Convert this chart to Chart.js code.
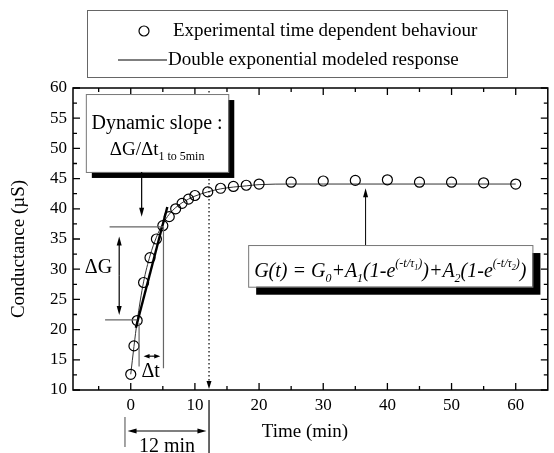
<!DOCTYPE html>
<html>
<head>
<meta charset="utf-8">
<script src="https://cdn.jsdelivr.net/npm/chart.js@4.4.1/dist/chart.umd.min.js"></script>
<style>
  html, body { margin: 0; padding: 0; background: #fff; }
  #wrap { width: 554px; height: 453px; }
</style>
</head>
<body>
<div id="wrap"><canvas id="chart" width="554" height="453"></canvas></div>
<script>
/* measured conductance (µS) vs time (min) */
var timeMin  = [0, 0.5, 1, 2, 3, 4, 5, 6, 7, 8, 9, 10, 12, 14, 16, 18, 20, 25, 30, 35, 40, 45, 50, 55, 60];
var measured = [12.6, 17.3, 21.5, 27.8, 31.9, 35.0, 37.2, 38.7, 40.0, 40.9, 41.6, 42.2, 42.8, 43.4, 43.7, 43.9, 44.1, 44.4, 44.6, 44.7, 44.8, 44.4, 44.4, 44.3, 44.1];

/* double exponential fit */
var modelTime = [0, 0.5, 1, 2, 3, 4, 5, 6, 7, 8, 9, 10, 12, 14, 16, 18, 20, 25, 30, 40, 50, 60];
var modeled   = [12.6, 17.2, 21.4, 27.9, 32.2, 35.3, 37.5, 39.1, 40.2, 41.0, 41.6, 42.1, 42.8, 43.3, 43.6, 43.8, 44.0, 44.1, 44.1, 44.1, 44.1, 44.1];

/* dynamic slope segment (1 to 5 min) */
var slopeTime = [0.8, 5.7];
var slopeG    = [20.3, 40.3];

/* axis ticks */
var xMajor = [0, 10, 20, 30, 40, 50, 60];
var xMinor = [-5, 5, 15, 25, 35, 45, 55];
var yMajor = [10, 15, 20, 25, 30, 35, 40, 45, 50, 55, 60];
var yMinor = [12.5, 17.5, 22.5, 27.5, 32.5, 37.5, 42.5, 47.5, 52.5, 57.5];

var SERIF = '"Liberation Serif", "Times New Roman", serif';

function pts(xs, ys) {
  return xs.map(function (x, i) { return { x: x, y: ys[i] }; });
}

function arrow(c, x1, y1, x2, y2, len, half) {
  var ang = Math.atan2(y2 - y1, x2 - x1);
  var ca = Math.cos(ang), sa = Math.sin(ang);
  c.beginPath();
  c.moveTo(x1, y1);
  c.lineTo(x2 - ca * len * 0.7, y2 - sa * len * 0.7);
  c.stroke();
  c.beginPath();
  c.moveTo(x2, y2);
  c.lineTo(x2 - len * ca + half * sa, y2 - len * sa - half * ca);
  c.lineTo(x2 - len * ca - half * sa, y2 - len * sa + half * ca);
  c.closePath();
  c.fill();
}

/* text made of runs: [text, size, dy]; returns width */
function richText(c, parts, x, y, style, draw) {
  var w = 0;
  parts.forEach(function (p) {
    c.font = style + p[1] + 'px ' + SERIF;
    if (draw) c.fillText(p[0], x + w, y + p[2]);
    w += c.measureText(p[0]).width;
  });
  return w;
}

function shadowBox(c, l, t, r, b, off) {
  c.fillStyle = '#000';
  c.fillRect(l + off, t + off, r - l, b - t);
  c.fillStyle = '#fff';
  c.fillRect(l, t, r - l, b - t);
  c.strokeStyle = '#777';
  c.lineWidth = 1;
  c.strokeRect(l + 0.5, t + 0.5, r - l, b - t);
}

var frame = {
  id: 'frame',
  afterDraw: function (chart) {
    var c = chart.ctx, a = chart.chartArea;
    var xs = chart.scales.x, ys = chart.scales.y;
    function X(v) { return xs.getPixelForValue(v); }
    function Y(v) { return ys.getPixelForValue(v); }
    c.save();

    /* axes box with inward ticks on all four sides */
    c.strokeStyle = '#000';
    c.lineWidth = 1.5;
    c.strokeRect(a.left, a.top, a.right - a.left, a.bottom - a.top);
    c.lineWidth = 1.3;
    c.beginPath();
    [[xMajor, 7], [xMinor, 4]].forEach(function (g) {
      g[0].forEach(function (v) {
        var px = X(v);
        c.moveTo(px, a.bottom); c.lineTo(px, a.bottom - g[1]);
        c.moveTo(px, a.top); c.lineTo(px, a.top + g[1]);
      });
    });
    [[yMajor, 7], [yMinor, 4]].forEach(function (g) {
      g[0].forEach(function (v) {
        var py = Y(v);
        c.moveTo(a.left, py); c.lineTo(a.left + g[1], py);
        c.moveTo(a.right, py); c.lineTo(a.right - g[1], py);
      });
    });
    c.stroke();

    /* axis titles */
    c.fillStyle = '#000';
    c.font = '19px ' + SERIF;
    c.textAlign = 'center';
    c.textBaseline = 'middle';
    c.fillText('Time (min)', 305, 432);
    c.save();
    c.translate(19, 249);
    c.rotate(-Math.PI / 2);
    c.fillText('Conductance (\u00B5S)', 0, 0);
    c.restore();

    /* legend */
    var ds = chart.data.datasets;
    c.fillStyle = '#fff';
    c.fillRect(87, 10, 420, 67);
    c.strokeStyle = '#666';
    c.lineWidth = 1;
    c.strokeRect(87.5, 10.5, 420, 67);
    c.strokeStyle = '#000';
    c.lineWidth = 1.2;
    c.beginPath(); c.arc(144, 31, 5, 0, Math.PI * 2); c.stroke();
    c.beginPath(); c.moveTo(118, 60); c.lineTo(167, 60); c.stroke();
    c.fillStyle = '#000';
    c.textAlign = 'left';
    c.font = '19px ' + SERIF;
    c.fillText(ds[0].label, 173, 31);
    c.fillText(ds[1].label, 168, 60);

    /* dotted marker at 12 min */
    c.strokeStyle = '#000';
    c.lineWidth = 1.2;
    c.setLineDash([1.5, 2.5]);
    c.beginPath(); c.moveTo(X(12.2), a.top + 3); c.lineTo(X(12.2), a.bottom - 6); c.stroke();
    c.setLineDash([]);
    c.fillStyle = '#000';
    arrow(c, X(12.2), a.bottom - 8, X(12.2), a.bottom - 1, 8, 2.5);

    /* delta G construction */
    c.strokeStyle = '#666';
    c.lineWidth = 1.2;
    c.beginPath();
    c.moveTo(X(-3.3), Y(37)); c.lineTo(X(5.1), Y(37));
    c.moveTo(X(-4.0), Y(21.6)); c.lineTo(X(1.0), Y(21.6));
    c.moveTo(X(5.1), Y(37)); c.lineTo(X(5.1), Y(13.6));
    c.moveTo(X(1.3), Y(21.1)); c.lineTo(X(1.3), Y(13.9));
    c.stroke();
    c.strokeStyle = '#000';
    c.lineWidth = 1.2;
    var gx = X(-1.8), gm = (Y(35.4) + Y(22.4)) / 2;
    arrow(c, gx, gm, gx, Y(35.4), 9, 2.5);
    arrow(c, gx, gm, gx, Y(22.4), 9, 2.5);
    c.font = '20px ' + SERIF;
    c.textAlign = 'right';
    c.textBaseline = 'middle';
    c.fillText('\u0394G', X(-2.9), Y(30.2));
    var tm = (X(2.0) + X(4.6)) / 2;
    arrow(c, tm, Y(15.6), X(2.0), Y(15.6), 6, 2.2);
    arrow(c, tm, Y(15.6), X(4.6), Y(15.6), 6, 2.2);
    c.textAlign = 'center';
    c.fillText('\u0394t', X(3.1), Y(13.0));

    /* 12 min span under the axis */
    c.beginPath();
    c.strokeStyle = '#666';
    c.moveTo(X(-0.9), a.bottom + 27); c.lineTo(X(-0.9), a.bottom + 57);
    c.stroke();
    c.beginPath();
    c.strokeStyle = '#000';
    c.moveTo(X(12.2), a.bottom + 10); c.lineTo(X(12.2), a.bottom + 63);
    c.stroke();
    var sm = (X(-0.9) + X(12.2)) / 2;
    arrow(c, sm, a.bottom + 41, X(-0.5), a.bottom + 41, 9, 2.5);
    arrow(c, sm, a.bottom + 41, X(11.8), a.bottom + 41, 9, 2.5);
    c.font = '20px ' + SERIF;
    c.textBaseline = 'alphabetic';
    c.fillText('12 min', sm, a.bottom + 62);

    /* dynamic slope callout */
    var bl = X(-7.0), br = X(15.2), bt = Y(59.0), bb = Y(46.1);
    shadowBox(c, bl, bt, br, bb, 6);
    c.fillStyle = '#000';
    c.font = '20px ' + SERIF;
    c.textAlign = 'center';
    c.fillText('Dynamic slope :', (bl + br) / 2, bt + 35);
    c.textAlign = 'left';
    var sparts = [['\u0394G/\u0394t', 19, 0], ['1 to 5min', 12, 5]];
    var sw = richText(c, sparts, 0, 0, '', false);
    richText(c, sparts, (bl + br) / 2 - sw / 2, bt + 61, '', true);
    c.strokeStyle = '#000';
    c.lineWidth = 1.2;
    arrow(c, X(1.7), bb, X(1.7), Y(38.7), 9, 2.5);

    /* model equation callout */
    var el = X(18.3), er = X(62.6), et = Y(34.0), eb = Y(27.1);
    shadowBox(c, el, et, er, eb, 8);
    c.fillStyle = '#000';
    var eparts = [
      ['G(t) = G', 20, 0], ['0', 12, 5], ['+A', 20, 0], ['1', 12, 5],
      ['(1-e', 20, 0], ['(-t/\u03C4', 12, -10], ['1', 8, -7], [')', 12, -10],
      [')+A', 20, 0], ['2', 12, 5],
      ['(1-e', 20, 0], ['(-t/\u03C4', 12, -10], ['2', 8, -7], [')', 12, -10], [')', 20, 0]
    ];
    var ew = richText(c, eparts, 0, 0, 'italic ', false);
    richText(c, eparts, (el + er) / 2 - ew / 2, eb - 10, 'italic ', true);
    c.strokeStyle = '#000';
    arrow(c, X(36.6), et, X(36.6), Y(43.4), 9, 2.5);

    c.restore();
  }
};

new Chart(document.getElementById('chart').getContext('2d'), {
  type: 'line',
  data: {
    datasets: [
      {
        label: 'Experimental time dependent behaviour',
        data: pts(timeMin, measured),
        showLine: false,
        pointStyle: 'circle',
        pointRadius: 5,
        pointBorderWidth: 1.2,
        pointBorderColor: '#000',
        pointBackgroundColor: 'rgba(0,0,0,0)',
        order: 0
      },
      {
        label: 'Double exponential modeled response',
        data: pts(modelTime, modeled),
        borderColor: '#333',
        borderWidth: 1,
        pointRadius: 0,
        cubicInterpolationMode: 'monotone',
        fill: false,
        order: 2
      },
      {
        label: 'slope',
        data: pts(slopeTime, slopeG),
        borderColor: '#000',
        borderWidth: 2.4,
        pointRadius: 0,
        fill: false,
        order: 1
      }
    ]
  },
  options: {
    responsive: false,
    animation: false,
    events: [],
    layout: { padding: { left: 0, right: 1, top: 88, bottom: 0 } },
    plugins: { legend: { display: false }, tooltip: { enabled: false } },
    scales: {
      x: {
        type: 'linear',
        min: -9,
        max: 65,
        grid: { display: false, drawTicks: false },
        border: { display: false },
        afterBuildTicks: function (s) { s.ticks = xMajor.map(function (v) { return { value: v }; }); },
        afterFit: function (s) { s.height = 63; },
        ticks: { color: '#000', padding: 5, maxRotation: 0, font: { family: SERIF, size: 17 } }
      },
      y: {
        type: 'linear',
        min: 10,
        max: 60,
        grid: { display: false, drawTicks: false },
        border: { display: false },
        afterBuildTicks: function (s) { s.ticks = yMajor.map(function (v) { return { value: v }; }); },
        afterFit: function (s) { s.width = 73; },
        ticks: { color: '#000', padding: 6, font: { family: SERIF, size: 17 } }
      }
    }
  },
  plugins: [frame]
});
</script>
</body>
</html>
